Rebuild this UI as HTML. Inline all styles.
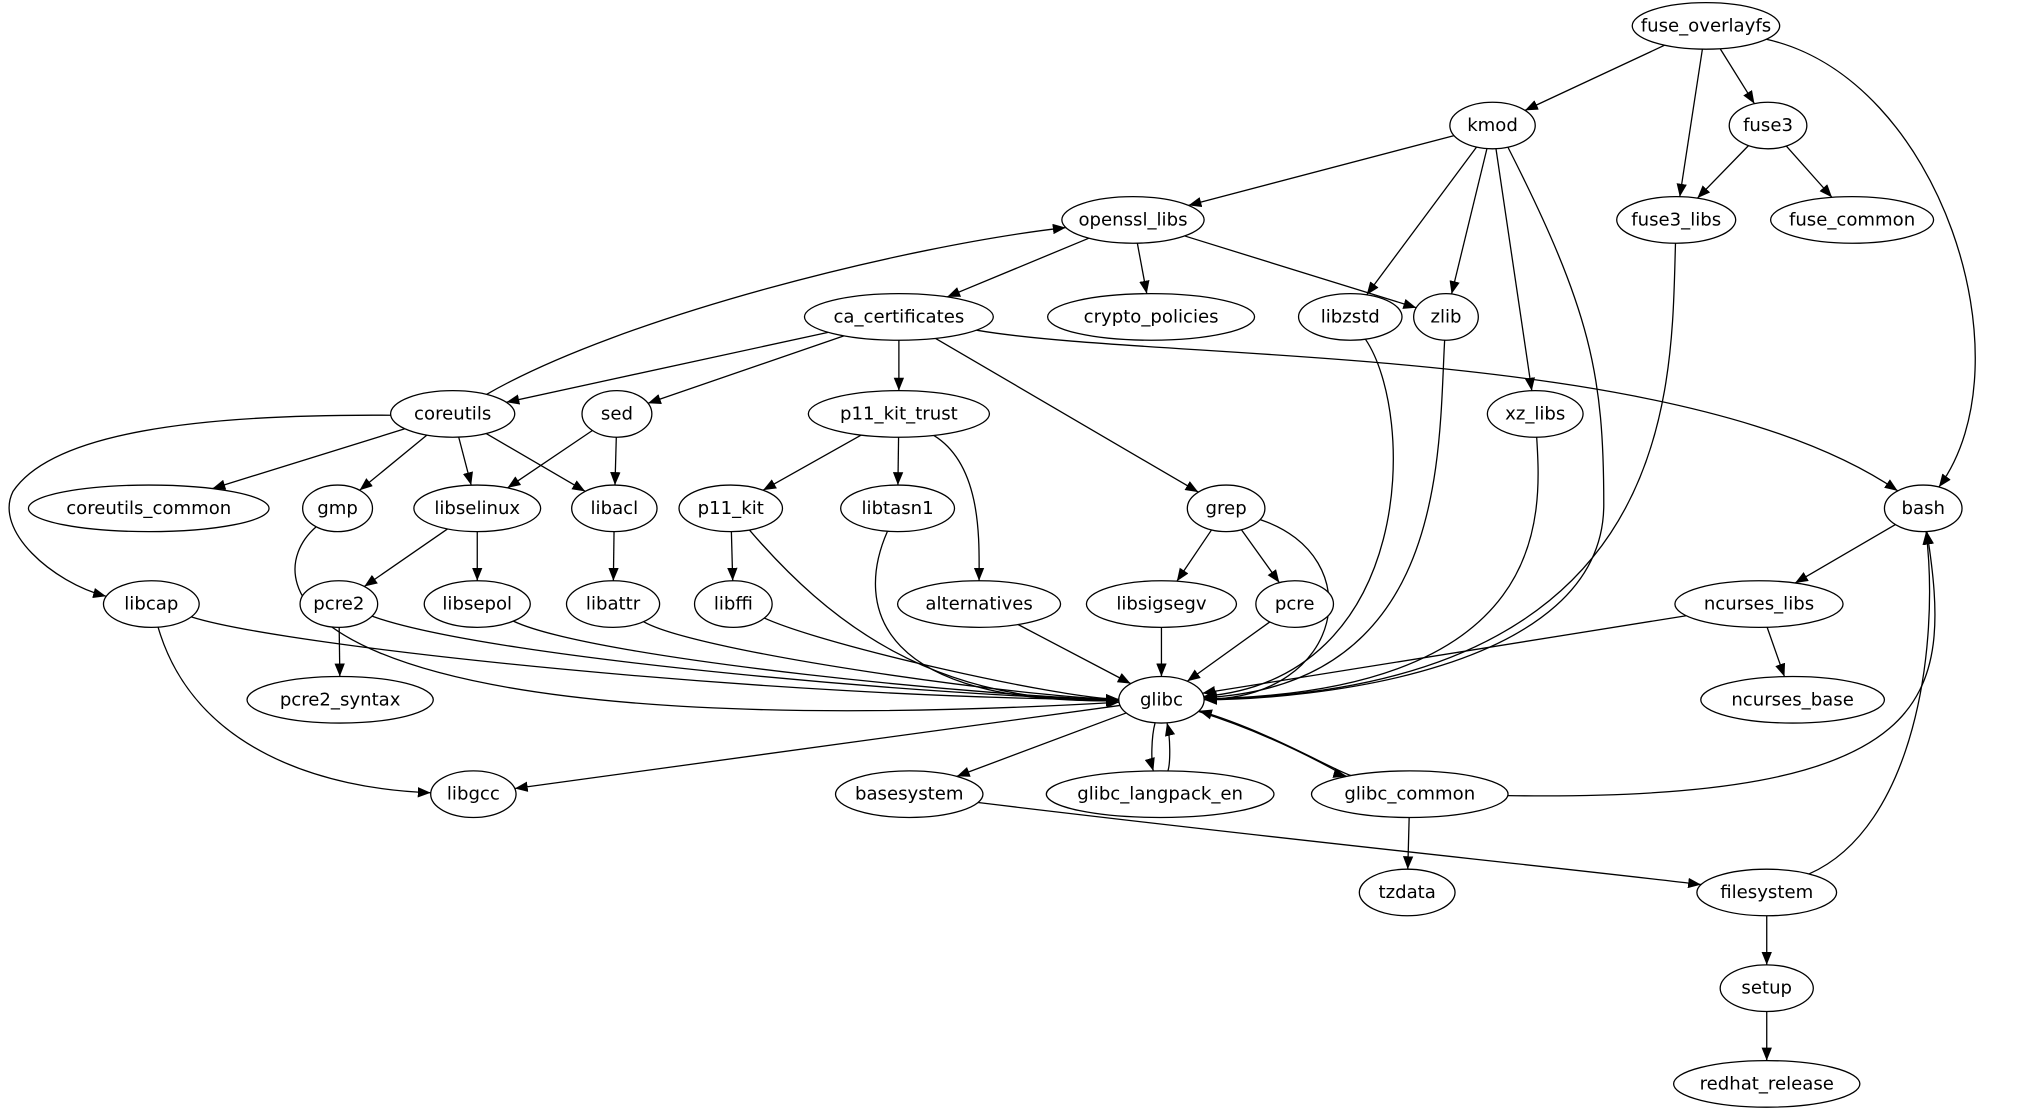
<!DOCTYPE html>
<html><head><meta charset="utf-8"><style>
html,body{margin:0;padding:0;background:#fff;}
svg{display:block;}
text{font-family:"DejaVu Sans","Liberation Sans",sans-serif;font-size:14px;text-anchor:middle;dominant-baseline:central;fill:#000;}
</style></head><body>
<svg id="g" width="2028" height="1115" viewBox="0 0 1568 862" xmlns="http://www.w3.org/2000/svg">
<defs><marker id="a" markerWidth="10" markerHeight="8" refX="10" refY="4" orient="auto" markerUnits="userSpaceOnUse"><polygon points="0,0 10,4 0,8" fill="#000"/></marker></defs>
<g id="e"></g><g id="n"></g>
</svg>
<script>
var N={
fuse_overlayfs:[1319,20,57],kmod:[1154,97,33],fuse3:[1367,97,30],openssl_libs:[876,170,55],
fuse3_libs:[1296,170,46],fuse_common:[1432,170,63],ca_certificates:[695,245,73],crypto_policies:[890,245,80],
libzstd:[1044,245,40],zlib:[1118,245,25],coreutils:[350,320,48],sed:[477,320,27],p11_kit_trust:[695,320,70],
xz_libs:[1187,320,37],coreutils_common:[115,393,93],gmp:[261,393,27],libselinux:[369,393,49],libacl:[475,393,33],
p11_kit:[565,393,40],libtasn1:[694,393,44],grep:[948,393,30],bash:[1487,393,30],libcap:[117,467,37],
pcre2:[262,467,30],libsepol:[369,467,41],libattr:[474,467,36],libffi:[567,467,30],alternatives:[757,467,63],
libsigsegv:[898,467,58],pcre:[1001,467,30],ncurses_libs:[1360,467,65],glibc:[898,541,33],pcre2_syntax:[263,541,72],
ncurses_base:[1386,541,71],libgcc:[366,614,33],basesystem:[703,614,57],glibc_langpack_en:[897,614,88],
glibc_common:[1090,614,76],tzdata:[1088,690,37],filesystem:[1366,690,54],setup:[1366,764,36],redhat_release:[1366,838,72]};
var RY=18;
var E=[
["fuse_overlayfs","kmod"],["fuse_overlayfs","fuse3"],["fuse_overlayfs","fuse3_libs"],["fuse_overlayfs","bash",[1500,60],[1570,280]],
["fuse3","fuse3_libs"],["fuse3","fuse_common"],["kmod","openssl_libs"],["kmod","libzstd"],["kmod","zlib"],["kmod","xz_libs"],
["RAW","M1166,114 C1230,240 1240,290 1240,390 C1240,520 1010,541 931,541"],["openssl_libs","ca_certificates"],["openssl_libs","crypto_policies"],["openssl_libs","zlib"],
["fuse3_libs","glibc",[1292,300],[1300,535]],["libzstd","glibc",[1095,320],[1095,525]],["zlib","glibc",[1112,350],[1120,530]],["xz_libs","glibc",[1192,400],[1200,535]],
["coreutils","openssl_libs",[480,245],[700,190]],["ca_certificates","coreutils"],["ca_certificates","sed"],["ca_certificates","p11_kit_trust"],
["ca_certificates","grep"],["ca_certificates","bash",[900,280],[1300,265]],["coreutils","coreutils_common"],["coreutils","gmp"],
["coreutils","libselinux"],["coreutils","libacl"],["RAW","M302,321 C150,320 40,335 10,380 C-5,410 40,450 82,461"],["sed","libselinux"],["sed","libacl"],
["p11_kit_trust","p11_kit"],["p11_kit_trust","libtasn1"],["p11_kit_trust","alternatives",[760,360],[757,420]],
["libselinux","pcre2"],["libselinux","libsepol"],["libacl","libattr"],["p11_kit","libffi"],["grep","libsigsegv"],["grep","pcre"],
["grep","glibc",[1060,430],[1040,540]],["gmp","glibc",[195,450],[220,580]],["libcap","glibc",[220,500],[600,540]],["libcap","libgcc",[150,580],[250,610]],
["pcre2","glibc",[380,510],[750,540]],["pcre2","pcre2_syntax"],["libsepol","glibc",[460,510],[780,540]],["libattr","glibc",[540,505],[800,540]],
["libffi","glibc",[640,500],[820,540]],["p11_kit","glibc",[640,480],[720,545]],["libtasn1","glibc",[660,470],[680,545]],["alternatives","glibc"],
["libsigsegv","glibc"],["pcre","glibc"],["ncurses_libs","glibc"],["ncurses_libs","ncurses_base"],["bash","ncurses_libs"],
["glibc","libgcc"],["glibc","basesystem"],["glibc","glibc_langpack_en",[890,570],[890,590]],["glibc_langpack_en","glibc",[905,590],[905,570]],
["glibc","glibc_common",[990,570],[1040,600]],["glibc_common","glibc",[1030,595],[980,565]],["glibc_common","bash",[1500,620],[1510,540]],
["glibc_common","tzdata"],["basesystem","filesystem",[1000,650],[1200,670]],["filesystem","bash",[1480,640],[1500,500]],["filesystem","setup"],["setup","redhat_release"]];
function bd(c,p){var dx=p[0]-c[0],dy=p[1]-c[1];var t=1/Math.sqrt(dx*dx/(c[2]*c[2])+dy*dy/(RY*RY));return [c[0]+dx*t,c[1]+dy*t];}
var eg=document.getElementById('e'),ng=document.getElementById('n'),h='';
E.forEach(function(e){var d;
 if(e[0]=="RAW"){d=e[1];}else{var a=N[e[0]],b=N[e[1]],c1=e[2],c2=e[3];
 if(c1){var s=bd(a,c1),t=bd(b,c2);d="M"+s+"C"+c1+" "+c2+" "+t;}else{var s=bd(a,b),t=bd(b,a);d="M"+s+"L"+t;}}
 h+='<path d="'+d+'" fill="none" stroke="#000" stroke-width="1" marker-end="url(#a)"/>';});
eg.innerHTML=h;h='';
for(var k in N){var v=N[k];h+='<ellipse cx="'+v[0]+'" cy="'+v[1]+'" rx="'+v[2]+'" ry="'+RY+'" fill="#fff" stroke="#000"/><text x="'+v[0]+'" y="'+v[1]+'">'+k+'</text>';}
ng.innerHTML=h;
</script>
</body></html>
